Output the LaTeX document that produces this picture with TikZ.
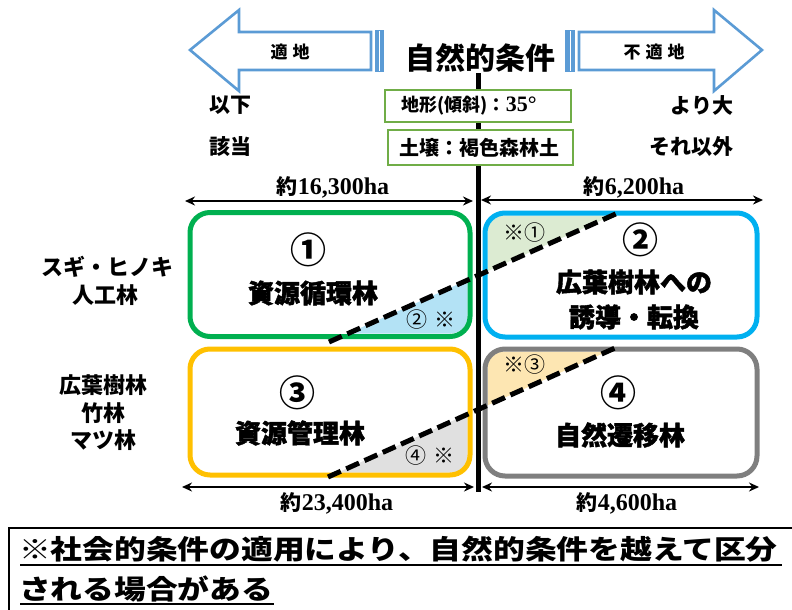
\documentclass[tikz,border=0pt]{standalone}
\usepackage{fontspec}
\setmainfont{Noto Sans CJK JP}
\newfontfamily\tnr{Liberation Serif}
\newfontfamily\jpheavy{Noto Sans CJK JP}[BoldFeatures={FakeBold=1.6}]
\usetikzlibrary{arrows.meta}
\definecolor{arrowblue}{HTML}{5B9BD5}
\definecolor{zgreen}{HTML}{00B050}
\definecolor{zblue}{HTML}{00B0F0}
\definecolor{zorange}{HTML}{FFC000}
\definecolor{zgray}{HTML}{7F7F7F}
\definecolor{fblue}{HTML}{B3E2F5}
\definecolor{fgreen}{HTML}{DCEBD2}
\definecolor{forange}{HTML}{FDE6B2}
\definecolor{fgray}{HTML}{E0E0E0}
\definecolor{condgreen}{HTML}{70AD47}
\newcommand{\fsz}[1]{\fontsize{#1}{#1}\selectfont}
\tikzset{
  every node/.style={inner sep=0pt, outer sep=0pt},
  zonebox/.style={rounded corners=20pt, line width=5pt, minimum width=280pt, minimum height=124pt},
  condbox/.style={draw=condgreen, line width=1.3pt, fill=white},
  blockarrow/.style={draw=arrowblue, line width=2.6pt, fill=white, line join=miter},
  dimarrow/.style={line width=2pt, {Stealth[length=10pt,width=9pt]}-{Stealth[length=10pt,width=9pt]}},
  splitline/.style={line width=5pt, dash pattern=on 14pt off 6pt},
  dimlabel/.style={font=\fsz{21}\bfseries},
  sidelabel/.style={font=\fsz{21}\bfseries},
  treelabel/.style={font=\fsz{22}\bfseries},
  zonetitle/.style={font=\jpheavy\fsz{26}\bfseries},
  zonenum/.style={font=\fsz{36}\bfseries},
  smallmark/.style={font=\fsz{21}},
}
\begin{document}
\begin{tikzpicture}[x=1pt,y=-1pt]
\useasboundingbox (0,0) rectangle (792,610);

% ---- shaded triangles
\begin{scope}
  \clip[rounded corners=17pt] (192.5,215.5) rectangle (467.5,333.5);
  \fill[fblue] (329,342) -- (490,270) -- (490,345) -- cycle;
\end{scope}
\begin{scope}
  \clip[rounded corners=17pt] (487.5,215.5) rectangle (754.5,334.5);
  \fill[fgreen] (478,275.4) -- (620,212) -- (478,205) -- cycle;
\end{scope}
\begin{scope}
  \clip[rounded corners=17pt] (192.5,351.5) rectangle (467.5,472.5);
  \fill[fgray] (328,477) -- (490,404) -- (490,480) -- cycle;
\end{scope}
\begin{scope}
  \clip[rounded corners=17pt] (487.5,351.5) rectangle (754.5,473.5);
  \fill[forange] (478,409.6) -- (615,348) -- (478,340) -- cycle;
\end{scope}

% ---- zone boxes
\node[zonebox, draw=zgreen]  (z1) at (330,274.5) {};
\node[zonebox, draw=zblue, minimum width=272pt]   (z2) at (621,275) {};
\node[zonebox, draw=zorange, minimum height=126pt] (z3) at (330,412) {};
\node[zonebox, draw=zgray, minimum width=272pt, minimum height=127pt]   (z4) at (621,412.5) {};

% ---- dashed split lines
\coordinate (l1a) at (329,342);
\coordinate (l1b) at (620,212);
\coordinate (l2a) at (328,477);
\coordinate (l2b) at (615,348);
\draw[splitline] (l1a) -- (l1b);
\draw[splitline] (l2a) -- (l2b);

% ---- vertical divider
\coordinate (vtop) at (478,73);
\coordinate (vbot) at (478,492);
\draw[line width=5pt] (vtop) -- (vbot);

% ---- block arrows
\draw[blockarrow] (190,50) -- (239,10) -- (239,32) -- (371,32) -- (371,70) -- (239,70) -- (239,91) -- cycle;
\fill[arrowblue] (375,30.5) rectangle (383.5,71.5);
\draw[white, line width=0.8pt] (379,31) -- (379,71);
\draw[blockarrow] (579,32) -- (714,32) -- (714,10) -- (762,50) -- (714,91) -- (714,70) -- (579,70) -- cycle;
\fill[arrowblue] (565,30.5) rectangle (575,71.5);
\draw[white, line width=0.8pt] (570,31) -- (570,71);
\node[font=\fsz{17}\bfseries] (tleft) at (290,52) {適\hspace{5pt}地};
\node[font=\fsz{17}\bfseries] (tright) at (654,52) {不\hspace{5pt}適\hspace{5pt}地};

% ---- title
\node[font=\fsz{30}\bfseries] (title) at (480,58) {自然的条件};

% ---- condition boxes
\node[condbox, minimum width=186pt, minimum height=32pt] (c1) at (478,106) {};
\node[font=\fsz{18}\bfseries] (c1t) at (469,106) {地形(傾斜)：{\tnr\bfseries\fsz{22}35°}};
\node[condbox, minimum width=185pt, minimum height=35pt] (c2) at (480.5,147.5) {};
\node[font=\fsz{20}\bfseries] (c2t) at (479,147.5) {土壌：褐色森林土};

% ---- left/right condition words
\node[sidelabel, anchor=west] (lw1) at (209,105) {以下};
\node[sidelabel, anchor=west] (lw2) at (209,147) {該当};
\node[sidelabel, anchor=east] (rw1) at (733,105) {より大};
\node[sidelabel, anchor=east] (rw2) at (733,147) {それ以外};

% ---- dimension arrows
\coordinate (d1a) at (185,201); \coordinate (d1b) at (473,201);
\coordinate (d2a) at (481,200); \coordinate (d2b) at (763,200);
\coordinate (d3a) at (182,487); \coordinate (d3b) at (474,487);
\coordinate (d4a) at (482,487); \coordinate (d4b) at (759,487);
\draw[dimarrow] (d1a) -- (d1b);
\draw[dimarrow] (d2a) -- (d2b);
\draw[dimarrow] (d3a) -- (d3b);
\draw[dimarrow] (d4a) -- (d4b);
\node[dimlabel] (a1) at (333,187) {約{\tnr\bfseries\fsz{24}16,300ha}};
\node[dimlabel] (a2) at (634,187) {約{\tnr\bfseries\fsz{24}6,200ha}};
\node[dimlabel] (a3) at (337,503) {約{\tnr\bfseries\fsz{24}23,400ha}};
\node[dimlabel] (a4) at (627,503) {約{\tnr\bfseries\fsz{24}4,600ha}};

% ---- zone texts
\node[zonenum] (n1) at (308,250) {①};
\node[zonetitle] (t1) at (313,293) {資源循環林};
\node[zonenum] (n2) at (640,240) {②};
\node[zonetitle] (t2a) at (634,282) {広葉樹林への};
\node[zonetitle] (t2b) at (634,317) {誘導・転換};
\node[zonenum] (n3) at (297,393) {③};
\node[zonetitle] (t3) at (300,433) {資源管理林};
\node[zonenum] (n4) at (618,393) {④};
\node[zonetitle] (t4) at (620,435) {自然遷移林};

% ---- triangle marks
\node[smallmark] (m1) at (431,320) {②\hspace{8pt}※};
\node[smallmark] (m2) at (524,233) {※①};
\node[smallmark] (m3) at (430,456) {④\hspace{8pt}※};
\node[smallmark] (m4) at (524,365) {※③};

% ---- tree type labels
\node[treelabel] (s1) at (107,267) {スギ・ヒノキ};
\node[treelabel] (s2) at (105,295) {人工林};
\node[treelabel] (s3) at (103,385) {広葉樹林};
\node[treelabel] (s4) at (103,413) {竹林};
\node[treelabel] (s5) at (103,440) {マツ林};

% ---- note box
\coordinate (nb1) at (795,528);
\coordinate (nb2) at (9,528);
\coordinate (nb3) at (9,615);
\draw[line width=1.3pt] (nb1) -- (nb2) -- (nb3);
\node[anchor=west, font=\fsz{27}\bfseries] (note1) at (19,549) {\scalebox{1.176}[1]{※社会的条件の適用により、自然的条件を越えて区分}};
\node[anchor=west, font=\fsz{27}\bfseries] (note2) at (19,589) {\scalebox{1.176}[1]{される場合がある}};
\coordinate (u1a) at (20,565); \coordinate (u1b) at (782,565);
\coordinate (u2a) at (20,604); \coordinate (u2b) at (274,604);
\draw[line width=2pt] (u1a) -- (u1b);
\draw[line width=2pt] (u2a) -- (u2b);
\end{tikzpicture}
\end{document}
